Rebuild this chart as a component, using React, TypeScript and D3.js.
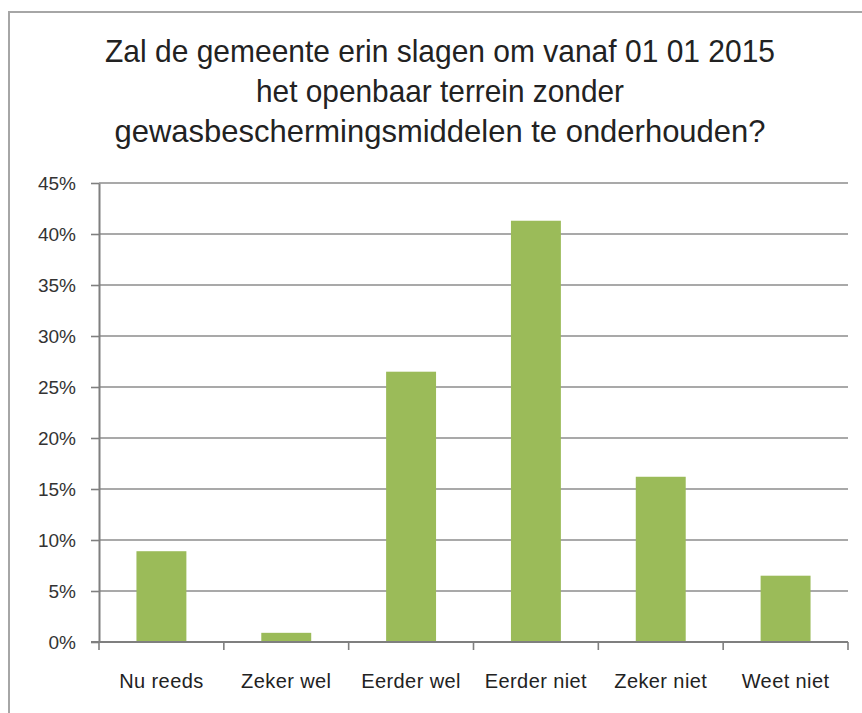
import * as d3 from 'd3'
import { useEffect, useRef } from 'react'

const categories = [
  'Nu reeds',
  'Zeker wel',
  'Eerder wel',
  'Eerder niet',
  'Zeker niet',
  'Weet niet',
]
const values = [8.9, 0.9, 26.5, 41.3, 16.2, 6.5]
const yTicks = [0, 5, 10, 15, 20, 25, 30, 35, 40, 45]
const titleLines = [
  'Zal de gemeente erin slagen om vanaf 01 01 2015',
  'het openbaar terrein zonder',
  'gewasbeschermingsmiddelen te onderhouden?',
]
// widths the title lines take in the picture (condensed face)
const titleWidths = [670, 368, 651]

function BarChart() {
  const ref = useRef<HTMLDivElement | null>(null)

  useEffect(() => {
    const width = 862
    const height = 713
    const marginLeft = 99
    const marginRight = 14
    const marginTop = 183
    const plotBottom = 642

    const x = d3
      .scaleBand()
      .domain(categories)
      .range([marginLeft, width - marginRight])
      .paddingInner(0.6)
      .paddingOuter(0.3)

    const y = d3.scaleLinear().domain([0, 45]).range([plotBottom, marginTop])

    const svg = d3
      .create('svg')
      .attr('width', width)
      .attr('height', height)
      .attr('viewBox', [0, 0, width, height])
      .style('display', 'block')
      .style('background', '#fff')

    // chart frame
    svg
      .append('rect')
      .attr('x', 9)
      .attr('y', 12)
      .attr('width', 900)
      .attr('height', 800)
      .attr('fill', 'none')
      .attr('stroke', '#a6a6a6')
      .attr('stroke-width', 2)

    // title
    svg
      .append('g')
      .selectAll('text')
      .data(titleLines)
      .join('text')
      .attr('x', 440)
      .attr('y', (_, i) => 62 + i * 40)
      .attr('text-anchor', 'middle')
      .attr('font-family', 'Liberation Sans, Arial, sans-serif')
      .attr('font-size', 32)
      .attr('fill', '#222')
      .attr('textLength', (_, i) => titleWidths[i])
      .attr('lengthAdjust', 'spacingAndGlyphs')
      .text((d) => d)

    // gridlines
    svg
      .append('g')
      .selectAll('line')
      .data(yTicks.filter((t) => t > 0))
      .join('line')
      .attr('x1', marginLeft)
      .attr('x2', width - marginRight)
      .attr('y1', (d) => y(d))
      .attr('y2', (d) => y(d))
      .attr('stroke', '#8c8c8c')
      .attr('stroke-width', 1.6)

    // bars
    svg
      .append('g')
      .attr('fill', '#9bbb59')
      .selectAll('rect')
      .data(values)
      .join('rect')
      .attr('x', (_, i) => x(categories[i])!)
      .attr('y', (d) => y(d))
      .attr('width', x.bandwidth())
      .attr('height', (d) => y(0) - y(d))

    // Y axis
    const yAxis = svg
      .append('g')
      .attr('transform', `translate(${marginLeft},0)`)
      .call(
        d3
          .axisLeft(y)
          .tickValues(yTicks)
          .tickFormat((d) => `${d}%`)
          .tickSizeInner(8)
          .tickSizeOuter(0)
          .tickPadding(15)
      )
    yAxis.select('.domain').attr('stroke', '#7f7f7f').attr('stroke-width', 2)
    yAxis.selectAll('.tick line').attr('stroke', '#7f7f7f').attr('stroke-width', 1.6)
    yAxis
      .selectAll('.tick text')
      .attr('font-family', 'Liberation Sans, Arial, sans-serif')
      .attr('font-size', 19)
      .attr('fill', '#333')

    // X axis line and category separators
    const step = x.step()
    const x0 = x.range()[0]
    const xAxis = svg.append('g')
    xAxis
      .append('line')
      .attr('x1', marginLeft - 8)
      .attr('x2', width - marginRight)
      .attr('y1', y(0))
      .attr('y2', y(0))
      .attr('stroke', '#7f7f7f')
      .attr('stroke-width', 2)
    xAxis
      .selectAll('line.sep')
      .data(d3.range(categories.length + 1))
      .join('line')
      .attr('class', 'sep')
      .attr('x1', (i) => x0 + i * step)
      .attr('x2', (i) => x0 + i * step)
      .attr('y1', y(0))
      .attr('y2', y(0) + 8)
      .attr('stroke', '#7f7f7f')
      .attr('stroke-width', 1.6)
    xAxis
      .selectAll('text')
      .data(categories)
      .join('text')
      .attr('x', (d) => x(d)! + x.bandwidth() / 2)
      .attr('y', 688)
      .attr('text-anchor', 'middle')
      .attr('font-family', 'Liberation Sans, Arial, sans-serif')
      .attr('font-size', 20)
      .attr('letter-spacing', 0.4)
      .attr('fill', '#222')
      .text((d) => d)

    if (ref.current) {
      ref.current.innerHTML = ''
      ref.current.appendChild(svg.node()!)
    }
  }, [])

  return (
    <div
      ref={ref}
      style={{ position: 'absolute', left: 0, top: 0, width: 862, height: 713 }}
    />
  )
}

export default function App() {
  return <BarChart />
}
